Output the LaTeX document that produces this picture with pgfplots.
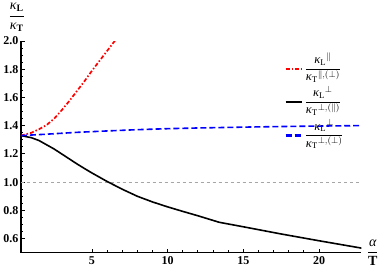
\documentclass[border=0pt]{standalone}
\usepackage{pgfplots}
\pgfplotsset{compat=1.18}
\usepackage{amsmath}
\usepackage{fontspec}
\setmainfont{Liberation Serif}
\newcommand{\kap}{\textit{κ}}
\begin{document}
\begin{tikzpicture}
\begin{axis}[
  width=341pt, height=212pt, scale only axis,
  xmin=0.3, xmax=22.8, ymin=0.5, ymax=2.0,
  axis x line=bottom, axis y line=left,
  axis line style={-, line width=1.4pt},
  xtick={5,10,15,20}, ytick={0.6,0.8,1.0,1.2,1.4,1.6,1.8,2.0},
  minor x tick num=4, minor y tick num=3,
  tick align=inside,
  major tick length=4pt, minor tick length=2.5pt,
  every tick/.style={black, line width=0.9pt},
  /pgf/number format/assume math mode=true,
  yticklabel={\textbf{\pgfmathprintnumber[fixed, fixed zerofill, precision=1]{\tick}}},
  xticklabel={\textbf{\pgfmathprintnumber{\tick}}},
  yticklabel style={font=\fontsize{12}{13}\selectfont, xshift=1pt},
  xticklabel style={font=\fontsize{12}{13}\selectfont},
  xlabel={$\dfrac{\textit{α}}{\mathrm{\textbf{T}}}$},
  xlabel style={at={(rel axis cs:1,0)}, anchor=west, xshift=2pt, font=\fontsize{14}{15}\selectfont},
  ylabel={$\dfrac{\kap_{\mathrm{\textbf{L}}}}{\kap_{\mathrm{\textbf{T}}}}$},
  ylabel style={at={(rel axis cs:0,1)}, rotate=-90, anchor=south, xshift=-4pt, yshift=6pt, font=\fontsize{14}{15}\selectfont},
  legend style={draw=none, fill=none, at={(0.765,0.965)}, anchor=north west, font=\fontsize{12.5}{13}\selectfont, row sep=9pt, legend cell align=left},
  legend image code/.code={\draw[#1, line width=2.2pt] (0pt,-6pt) -- (16pt,-6pt);},
]
\addplot[gray!70, dashed, line width=0.6pt, forget plot] coordinates {(0.3,1) (22.8,1)};
\addplot[red, line width=1.7pt, dash pattern=on 4pt off 2pt on 1.5pt off 2pt] coordinates {
(0.3,1.33) (1,1.35) (1.5,1.375) (2,1.405) (2.5,1.45) (3,1.51) (3.5,1.575) (4,1.645) (4.5,1.715) (5,1.79) (5.5,1.86) (6,1.93) (6.5,2.0) (6.6,2.02)};
\addlegendentry{$\dfrac{\kap_{\mathrm{L}}{}^{\parallel}}{\kap_{\mathrm{T}}{}^{\parallel,(\perp)}}$}
\addplot[black, line width=1.6pt] coordinates {
(0.3,1.33) (1,1.315) (1.5,1.295) (2,1.265) (2.5,1.235) (3,1.20) (3.5,1.165) (4,1.13) (4.5,1.097) (5,1.065) (5.5,1.035) (6,1.005) (7,0.95) (8,0.90) (9,0.86) (10,0.825) (11,0.793) (12,0.762) (13.4,0.716) (15,0.684) (17.5,0.633) (20,0.585) (22.8,0.533)};
\addlegendentry{$\dfrac{\kap_{\mathrm{L}}{}^{\perp}}{\kap_{\mathrm{T}}{}^{\perp,(\parallel)}}$}
\addplot[blue, line width=1.6pt, dash pattern=on 6pt off 3pt] coordinates {
(0.3,1.33) (2,1.34) (4,1.353) (6,1.363) (8,1.372) (10,1.379) (12,1.384) (15,1.39) (18,1.395) (22.8,1.401)};
\addlegendentry{$\dfrac{\kap_{\mathrm{L}}{}^{\perp}}{\kap_{\mathrm{T}}{}^{\perp,(\perp)}}$}
\end{axis}
\end{tikzpicture}
\end{document}
